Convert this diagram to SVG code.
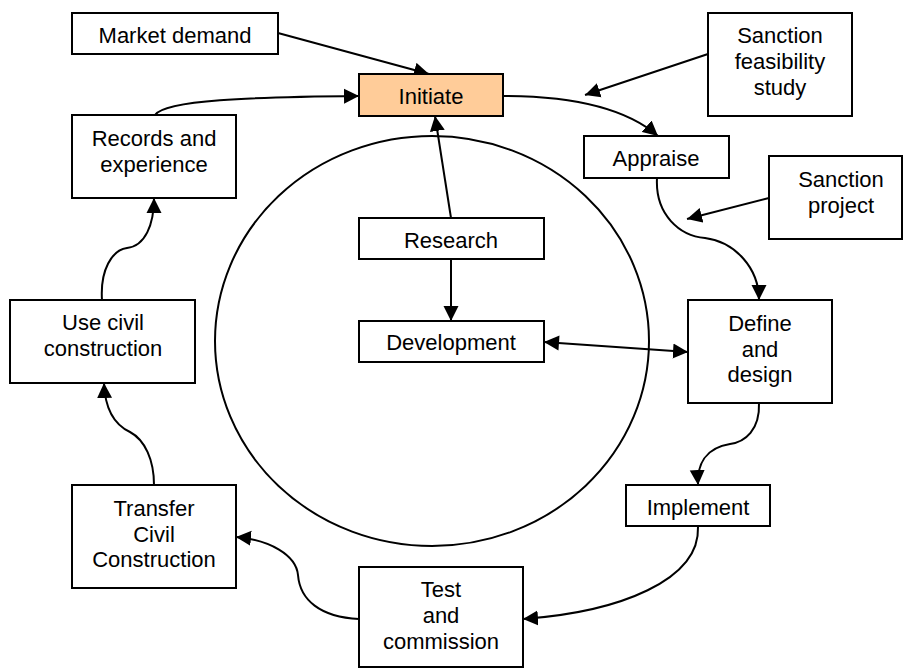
<svg xmlns="http://www.w3.org/2000/svg" width="903" height="668" viewBox="0 0 903 668">
  <style>
    .box { fill: #ffffff; stroke: #000000; stroke-width: 2; }
    .hot { fill: #ffcc99; }
    .lbl { font-family: "Liberation Sans", Arial, sans-serif; font-size: 22px; fill: #000000; text-anchor: middle; }
    .wire { fill: none; stroke: #000000; stroke-width: 2; }
    .arr { marker-end: url(#head); }
  </style>
  <defs>
    <marker id="head" markerUnits="userSpaceOnUse" markerWidth="17" markerHeight="16" refX="15" refY="8" orient="auto">
      <path d="M0,0.5 L15,8 L0,15.5 Z" fill="#000000"/>
    </marker>
    <marker id="tail" markerUnits="userSpaceOnUse" markerWidth="17" markerHeight="16" refX="0" refY="8" orient="auto">
      <path d="M15,0.5 L0,8 L15,15.5 Z" fill="#000000"/>
    </marker>
  </defs>

  <rect width="903" height="668" fill="#ffffff"/>

  <!-- central R&D cycle -->
  <ellipse cx="432" cy="341" rx="217" ry="205" class="wire"/>

  <g id="connectors">
    <line class="wire arr" x1="278" y1="33" x2="429" y2="74"/>
    <path class="wire arr" d="M155,115 C165,100 250,97 359,96"/>
    <path class="wire arr" d="M503,96 C575,96 628,110 658,136"/>
    <line class="wire arr" x1="708" y1="54" x2="585" y2="95"/>
    <line class="wire arr" x1="769" y1="198" x2="687" y2="219"/>
    <path class="wire arr" d="M657,178 C655,215 680,236 705,238 C735,242 759,268 759,300"/>
    <line class="wire arr" x1="451" y1="218" x2="435" y2="116"/>
    <line class="wire arr" x1="451" y1="259" x2="451" y2="321"/>
    <line class="wire arr" x1="544" y1="342" x2="688" y2="352" marker-start="url(#tail)"/>
    <path class="wire arr" d="M759,403 C760,430 745,442 730,444 C705,448 697,465 698,485"/>
    <path class="wire arr" d="M698,527 C700,580 620,612 523,619"/>
    <path class="wire arr" d="M359,619 C320,617 300,600 298,575 C296,555 270,540 236,537"/>
    <path class="wire arr" d="M154,485 C154,460 145,440 130,432 C115,425 105,410 104,383"/>
    <path class="wire arr" d="M102,300 C100,270 112,250 127,248 C145,246 154,225 154,198"/>
  </g>

  <g id="market-demand">
    <rect class="box" x="72" y="13" width="206" height="41"/>
    <text class="lbl" x="175" y="43">Market demand</text>
  </g>

  <g id="initiate">
    <rect class="box hot" x="359" y="74" width="144" height="42"/>
    <text class="lbl" x="431" y="104">Initiate</text>
  </g>

  <g id="sanction-feasibility">
    <rect class="box" x="708" y="13" width="144" height="103"/>
    <text class="lbl" x="780" y="43">Sanction</text>
    <text class="lbl" x="780" y="69">feasibility</text>
    <text class="lbl" x="780" y="95">study</text>
  </g>

  <g id="records">
    <rect class="box" x="72" y="115" width="164" height="83"/>
    <text class="lbl" x="154" y="146">Records and</text>
    <text class="lbl" x="154" y="172">experience</text>
  </g>

  <g id="appraise">
    <rect class="box" x="584" y="136" width="145" height="42"/>
    <text class="lbl" x="656" y="166">Appraise</text>
  </g>

  <g id="sanction-project">
    <rect class="box" x="769" y="156" width="133" height="83"/>
    <text class="lbl" x="841" y="187">Sanction</text>
    <text class="lbl" x="841" y="213">project</text>
  </g>

  <g id="research">
    <rect class="box" x="359" y="218" width="185" height="41"/>
    <text class="lbl" x="451" y="248">Research</text>
  </g>

  <g id="development">
    <rect class="box" x="359" y="321" width="185" height="41"/>
    <text class="lbl" x="451" y="350">Development</text>
  </g>

  <g id="use-civil">
    <rect class="box" x="10" y="300" width="185" height="83"/>
    <text class="lbl" x="103" y="330">Use civil</text>
    <text class="lbl" x="103" y="356">construction</text>
  </g>

  <g id="define-design">
    <rect class="box" x="688" y="300" width="144" height="103"/>
    <text class="lbl" x="760" y="331">Define</text>
    <text class="lbl" x="760" y="357">and</text>
    <text class="lbl" x="760" y="382">design</text>
  </g>

  <g id="implement">
    <rect class="box" x="626" y="485" width="144" height="41"/>
    <text class="lbl" x="698" y="515">Implement</text>
  </g>

  <g id="transfer">
    <rect class="box" x="72" y="485" width="164" height="103"/>
    <text class="lbl" x="154" y="516">Transfer</text>
    <text class="lbl" x="154" y="542">Civil</text>
    <text class="lbl" x="154" y="567">Construction</text>
  </g>

  <g id="test-commission">
    <rect class="box" x="359" y="567" width="164" height="100"/>
    <text class="lbl" x="441" y="597">Test</text>
    <text class="lbl" x="441" y="623">and</text>
    <text class="lbl" x="441" y="649">commission</text>
  </g>
</svg>
